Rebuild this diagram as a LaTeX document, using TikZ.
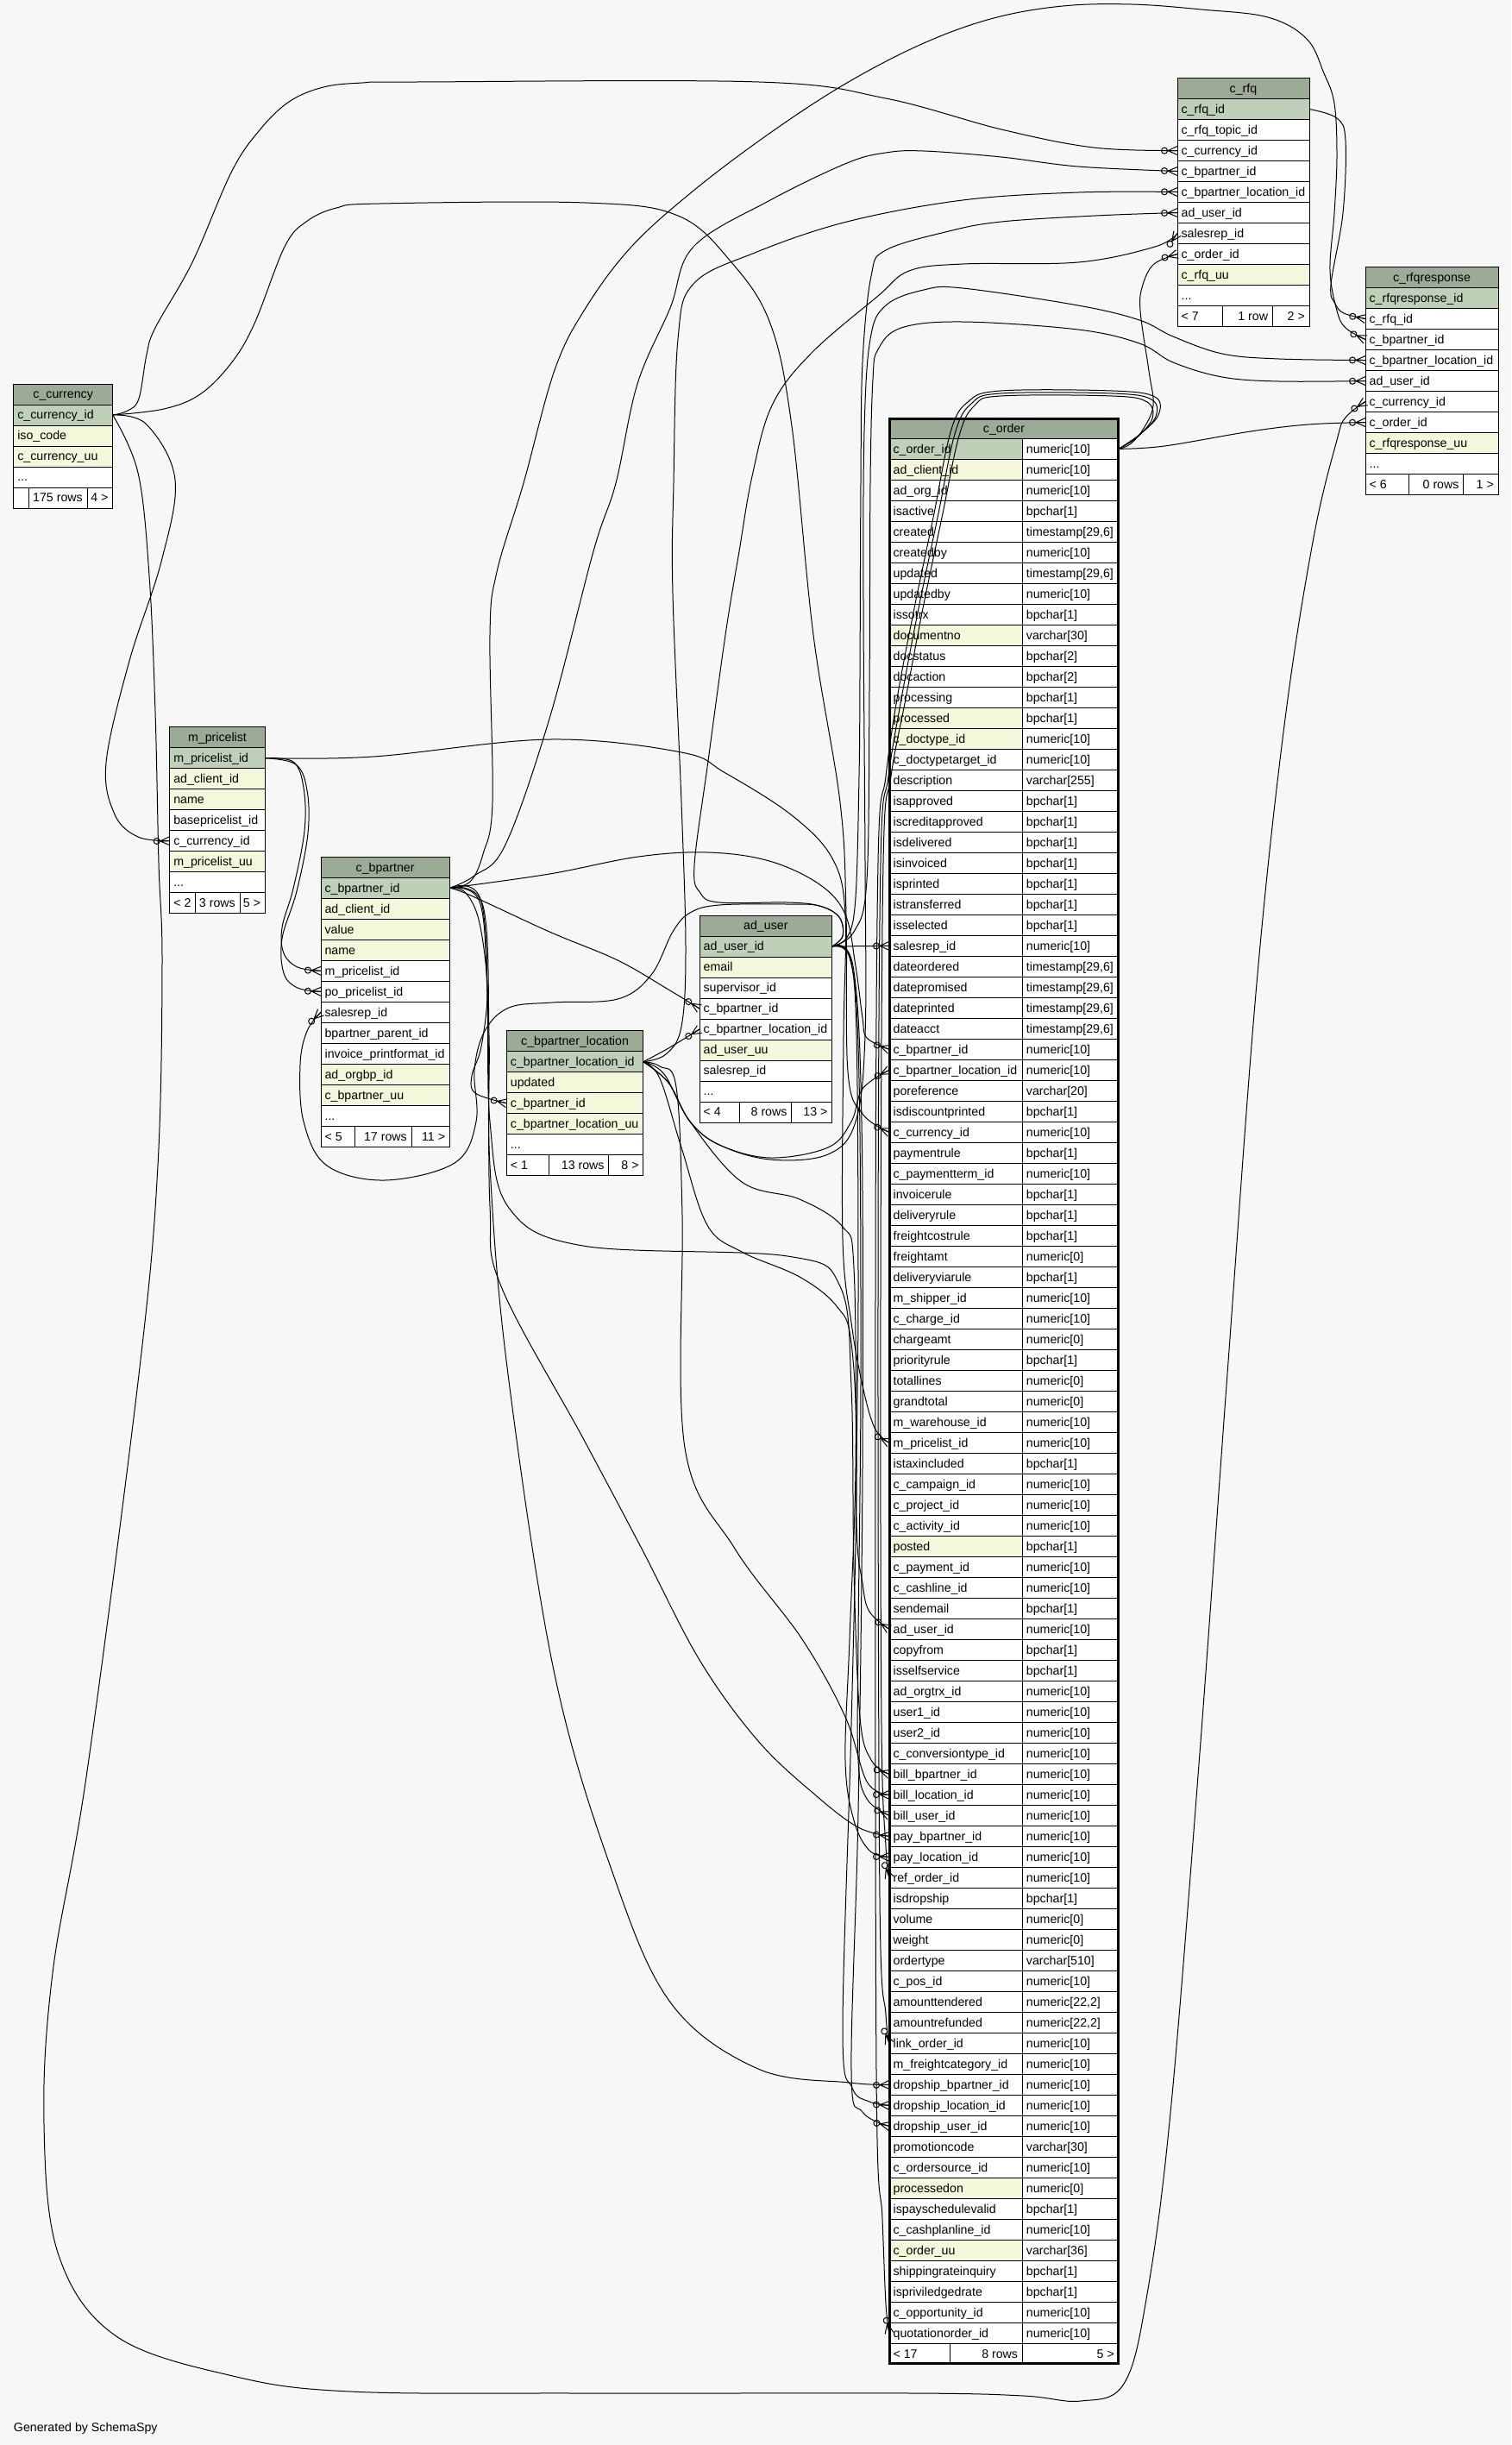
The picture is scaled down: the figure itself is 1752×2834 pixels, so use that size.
\documentclass[tikz,border=0pt]{standalone}
\usepackage{fontspec}
\setmainfont{Liberation Sans}
\usetikzlibrary{arrows.meta}
\pgfdeclarearrow{
  name=Crow,
  parameters={\the\pgfarrowlength,\the\pgfarrowwidth},
  setup code={
    \pgfarrowssettipend{0pt}
    \pgfarrowssetlineend{0pt}
    \pgfarrowssetbackend{-\pgfarrowlength}
    \pgfarrowshullpoint{0pt}{.5\pgfarrowwidth}
    \pgfarrowshullpoint{0pt}{-.5\pgfarrowwidth}
    \pgfarrowshullpoint{-\pgfarrowlength}{0pt}
    \pgfarrowssavethe\pgfarrowlength
    \pgfarrowssavethe\pgfarrowwidth
  },
  drawing code={
    \pgfsetdash{}{0pt}
    \pgfpathmoveto{\pgfqpoint{0pt}{.5\pgfarrowwidth}}
    \pgfpathlineto{\pgfqpoint{-\pgfarrowlength}{0pt}}
    \pgfpathlineto{\pgfqpoint{0pt}{-.5\pgfarrowwidth}}
    \pgfpathmoveto{\pgfqpoint{-\pgfarrowlength}{0pt}}
    \pgfpathlineto{\pgfqpoint{0pt}{0pt}}
    \pgfusepathqstroke
  },
  defaults={length=5pt,width=5pt}
}
\definecolor{bg}{HTML}{F7F7F7}
\definecolor{hdr}{HTML}{9BAB96}
\definecolor{pk}{HTML}{BED1B8}
\definecolor{ix}{HTML}{F4F7DA}
\tikzset{
  cellbox/.style={rectangle,draw=black,line width=0.5pt,inner sep=0pt,outer sep=0pt,minimum height=12pt},
  celltxt/.style={anchor=base west,inner sep=0pt,outer sep=0pt,font=\fontsize{7.1pt}{8pt}\selectfont},
  fk/.style={draw=black,line width=0.5pt,-{Circle[open,length=4pt,width=4pt] Crow[length=5.5pt,width=5pt]}},
}
% #1 name, #2 x, #3 y(top), #4 width px, #5 fill, #6 text
\newcommand\cellrow[6]{%
  \node[cellbox,fill=#5,minimum width=#4*0.5pt,anchor=north west] (#1) at (#2,#3) {};
  \node[celltxt] at ([xshift=2.3pt,yshift=-2.35pt]#1.west) {#6};}
\newcommand\hdrrow[5]{%
  \node[cellbox,fill=hdr,minimum width=#4*0.5pt,anchor=north west] (#1) at (#2,#3) {};
  \node[celltxt,anchor=base] at ([yshift=-2.35pt]#1.center) {#5};}
\newcommand\footrow[9]{%
  \node[cellbox,fill=white,minimum width=#4*0.5pt,anchor=north west] (#1-f1) at (#2,#3) {};
  \node[cellbox,fill=white,minimum width=#5*0.5pt,anchor=north west] (#1-f2) at (#1-f1.north east) {};
  \node[cellbox,fill=white,minimum width=#6*0.5pt,anchor=north west] (#1-f3) at (#1-f2.north east) {};
  \node[celltxt] at ([xshift=2.3pt,yshift=-2.35pt]#1-f1.west) {#7};
  \node[celltxt,anchor=base east] at ([xshift=-2.6pt,yshift=-2.35pt]#1-f2.east) {#8};
  \node[celltxt,anchor=base east] at ([xshift=-2.6pt,yshift=-2.35pt]#1-f3.east) {#9};}
\begin{document}
\begin{tikzpicture}[x=0.5pt,y=-0.5pt]
\useasboundingbox (0,0) rectangle (1752,2834);
\fill[bg] (0,0) rectangle (1752,2834);

% ---------------- c_rfq
\hdrrow{rfq-h}{1365}{90.5}{153}{c\_rfq}
\cellrow{rfq-id}{1365}{114.5}{153}{pk}{c\_rfq\_id}
\cellrow{rfq-topic}{1365}{138.5}{153}{white}{c\_rfq\_topic\_id}
\cellrow{rfq-cur}{1365}{162.5}{153}{white}{c\_currency\_id}
\cellrow{rfq-bp}{1365}{186.5}{153}{white}{c\_bpartner\_id}
\cellrow{rfq-bpl}{1365}{210.5}{153}{white}{c\_bpartner\_location\_id}
\cellrow{rfq-au}{1365}{234.5}{153}{white}{ad\_user\_id}
\cellrow{rfq-sr}{1365}{258.5}{153}{white}{salesrep\_id}
\cellrow{rfq-ord}{1365}{282.5}{153}{white}{c\_order\_id}
\cellrow{rfq-uu}{1365}{306.5}{153}{ix}{c\_rfq\_uu}
\cellrow{rfq-dots}{1365}{330.5}{153}{white}{...}
\footrow{rfq}{1365}{354.5}{52.7}{57.6}{42.7}{< 7}{1 row}{2 >}

% ---------------- c_rfqresponse
\hdrrow{rr-h}{1583}{309.5}{154}{c\_rfqresponse}
\cellrow{rr-id}{1583}{333.5}{154}{pk}{c\_rfqresponse\_id}
\cellrow{rr-rfq}{1583}{357.5}{154}{white}{c\_rfq\_id}
\cellrow{rr-bp}{1583}{381.5}{154}{white}{c\_bpartner\_id}
\cellrow{rr-bpl}{1583}{405.5}{154}{white}{c\_bpartner\_location\_id}
\cellrow{rr-au}{1583}{429.5}{154}{white}{ad\_user\_id}
\cellrow{rr-cur}{1583}{453.5}{154}{white}{c\_currency\_id}
\cellrow{rr-ord}{1583}{477.5}{154}{white}{c\_order\_id}
\cellrow{rr-uu}{1583}{501.5}{154}{ix}{c\_rfqresponse\_uu}
\cellrow{rr-dots}{1583}{525.5}{154}{white}{...}
\footrow{rr}{1583}{549.5}{50.7}{63}{40.3}{< 6}{0 rows}{1 >}

% ---------------- c_currency
\hdrrow{cu-h}{15.7}{445}{115}{c\_currency}
\cellrow{cu-id}{15.7}{469}{115}{pk}{c\_currency\_id}
\cellrow{cu-iso}{15.7}{493}{115}{ix}{iso\_code}
\cellrow{cu-uu}{15.7}{517}{115}{ix}{c\_currency\_uu}
\cellrow{cu-dots}{15.7}{541}{115}{white}{...}
\footrow{cu}{15.7}{565}{17.6}{67.7}{29.7}{}{175 rows}{4 >}

% ---------------- m_pricelist
\hdrrow{pl-h}{196.7}{842.7}{110.6}{m\_pricelist}
\cellrow{pl-id}{196.7}{866.7}{110.6}{pk}{m\_pricelist\_id}
\cellrow{pl-adc}{196.7}{890.7}{110.6}{ix}{ad\_client\_id}
\cellrow{pl-name}{196.7}{914.7}{110.6}{ix}{name}
\cellrow{pl-base}{196.7}{938.7}{110.6}{white}{basepricelist\_id}
\cellrow{pl-cur}{196.7}{962.7}{110.6}{white}{c\_currency\_id}
\cellrow{pl-uu}{196.7}{986.7}{110.6}{ix}{m\_pricelist\_uu}
\cellrow{pl-dots}{196.7}{1010.7}{110.6}{white}{...}
\footrow{pl}{196.7}{1034.7}{29.3}{52}{29.3}{< 2}{3 rows}{5 >}

% ---------------- c_bpartner
\hdrrow{bp-h}{372}{993.3}{149.3}{c\_bpartner}
\cellrow{bp-id}{372}{1017.3}{149.3}{pk}{c\_bpartner\_id}
\cellrow{bp-adc}{372}{1041.3}{149.3}{ix}{ad\_client\_id}
\cellrow{bp-value}{372}{1065.3}{149.3}{ix}{value}
\cellrow{bp-name}{372}{1089.3}{149.3}{ix}{name}
\cellrow{bp-mpl}{372}{1113.3}{149.3}{white}{m\_pricelist\_id}
\cellrow{bp-popl}{372}{1137.3}{149.3}{white}{po\_pricelist\_id}
\cellrow{bp-sr}{372}{1161.3}{149.3}{white}{salesrep\_id}
\cellrow{bp-parent}{372}{1185.3}{149.3}{white}{bpartner\_parent\_id}
\cellrow{bp-ipf}{372}{1209.3}{149.3}{white}{invoice\_printformat\_id}
\cellrow{bp-org}{372}{1233.3}{149.3}{ix}{ad\_orgbp\_id}
\cellrow{bp-uu}{372}{1257.3}{149.3}{ix}{c\_bpartner\_uu}
\cellrow{bp-dots}{372}{1281.3}{149.3}{white}{...}
\footrow{bp}{372}{1305.3}{39.8}{65.2}{44.3}{< 5}{17 rows}{11 >}

% ---------------- c_bpartner_location
\hdrrow{bl-h}{587.3}{1194.7}{158.5}{c\_bpartner\_location}
\cellrow{bl-id}{587.3}{1218.7}{158.5}{pk}{c\_bpartner\_location\_id}
\cellrow{bl-upd}{587.3}{1242.7}{158.5}{ix}{updated}
\cellrow{bl-bp}{587.3}{1266.7}{158.5}{ix}{c\_bpartner\_id}
\cellrow{bl-uu}{587.3}{1290.7}{158.5}{ix}{c\_bpartner\_location\_uu}
\cellrow{bl-dots}{587.3}{1314.7}{158.5}{white}{...}
\footrow{bl}{587.3}{1338.7}{49.4}{69.1}{40}{< 1}{13 rows}{8 >}

% ---------------- ad_user
\hdrrow{au-h}{811}{1061}{153.7}{ad\_user}
\cellrow{au-id}{811}{1085}{153.7}{pk}{ad\_user\_id}
\cellrow{au-email}{811}{1109}{153.7}{ix}{email}
\cellrow{au-sup}{811}{1133}{153.7}{white}{supervisor\_id}
\cellrow{au-bp}{811}{1157}{153.7}{white}{c\_bpartner\_id}
\cellrow{au-bpl}{811}{1181}{153.7}{white}{c\_bpartner\_location\_id}
\cellrow{au-uu}{811}{1205}{153.7}{ix}{ad\_user\_uu}
\cellrow{au-sr}{811}{1229}{153.7}{white}{salesrep\_id}
\cellrow{au-dots}{811}{1253}{153.7}{white}{...}
\footrow{au}{811}{1277}{46.2}{60.5}{47}{< 4}{8 rows}{13 >}

% ---------------- c_order
\hdrrow{ord-h}{1031}{484.3}{266}{c\_order}
\foreach [count=\i] \n/\t/\f in {
c\_order\_id/numeric[10]/pk,
ad\_client\_id/numeric[10]/ix,
ad\_org\_id/numeric[10]/white,
isactive/bpchar[1]/white,
created/{timestamp[29,6]}/white,
createdby/numeric[10]/white,
updated/{timestamp[29,6]}/white,
updatedby/numeric[10]/white,
issotrx/bpchar[1]/white,
documentno/varchar[30]/ix,
docstatus/bpchar[2]/white,
docaction/bpchar[2]/white,
processing/bpchar[1]/white,
processed/bpchar[1]/ix,
c\_doctype\_id/numeric[10]/ix,
c\_doctypetarget\_id/numeric[10]/white,
description/varchar[255]/white,
isapproved/bpchar[1]/white,
iscreditapproved/bpchar[1]/white,
isdelivered/bpchar[1]/white,
isinvoiced/bpchar[1]/white,
isprinted/bpchar[1]/white,
istransferred/bpchar[1]/white,
isselected/bpchar[1]/white,
salesrep\_id/numeric[10]/white,
dateordered/{timestamp[29,6]}/white,
datepromised/{timestamp[29,6]}/white,
dateprinted/{timestamp[29,6]}/white,
dateacct/{timestamp[29,6]}/white,
c\_bpartner\_id/numeric[10]/white,
c\_bpartner\_location\_id/numeric[10]/white,
poreference/varchar[20]/white,
isdiscountprinted/bpchar[1]/white,
c\_currency\_id/numeric[10]/white,
paymentrule/bpchar[1]/white,
c\_paymentterm\_id/numeric[10]/white,
invoicerule/bpchar[1]/white,
deliveryrule/bpchar[1]/white,
freightcostrule/bpchar[1]/white,
freightamt/numeric[0]/white,
deliveryviarule/bpchar[1]/white,
m\_shipper\_id/numeric[10]/white,
c\_charge\_id/numeric[10]/white,
chargeamt/numeric[0]/white,
priorityrule/bpchar[1]/white,
totallines/numeric[0]/white,
grandtotal/numeric[0]/white,
m\_warehouse\_id/numeric[10]/white,
m\_pricelist\_id/numeric[10]/white,
istaxincluded/bpchar[1]/white,
c\_campaign\_id/numeric[10]/white,
c\_project\_id/numeric[10]/white,
c\_activity\_id/numeric[10]/white,
posted/bpchar[1]/ix,
c\_payment\_id/numeric[10]/white,
c\_cashline\_id/numeric[10]/white,
sendemail/bpchar[1]/white,
ad\_user\_id/numeric[10]/white,
copyfrom/bpchar[1]/white,
isselfservice/bpchar[1]/white,
ad\_orgtrx\_id/numeric[10]/white,
user1\_id/numeric[10]/white,
user2\_id/numeric[10]/white,
c\_conversiontype\_id/numeric[10]/white,
bill\_bpartner\_id/numeric[10]/white,
bill\_location\_id/numeric[10]/white,
bill\_user\_id/numeric[10]/white,
pay\_bpartner\_id/numeric[10]/white,
pay\_location\_id/numeric[10]/white,
ref\_order\_id/numeric[10]/white,
isdropship/bpchar[1]/white,
volume/numeric[0]/white,
weight/numeric[0]/white,
ordertype/varchar[510]/white,
c\_pos\_id/numeric[10]/white,
amounttendered/{numeric[22,2]}/white,
amountrefunded/{numeric[22,2]}/white,
link\_order\_id/numeric[10]/white,
m\_freightcategory\_id/numeric[10]/white,
dropship\_bpartner\_id/numeric[10]/white,
dropship\_location\_id/numeric[10]/white,
dropship\_user\_id/numeric[10]/white,
promotioncode/varchar[30]/white,
c\_ordersource\_id/numeric[10]/white,
processedon/numeric[0]/ix,
ispayschedulevalid/bpchar[1]/white,
c\_cashplanline\_id/numeric[10]/white,
c\_order\_uu/varchar[36]/ix,
shippingrateinquiry/bpchar[1]/white,
ispriviledgedrate/bpchar[1]/white,
c\_opportunity\_id/numeric[10]/white,
quotationorder\_id/numeric[10]/white}{
  \node[cellbox,fill=\f,minimum width=77.15pt,anchor=north west] (ord-\i) at (1031,{508.3+24*(\i-1)}) {};
  \node[cellbox,fill=white,minimum width=55.85pt,anchor=north west] (ordt-\i) at (ord-\i.north east) {};
  \node[celltxt] at ([xshift=2.3pt,yshift=-2.35pt]ord-\i.west) {\n};
  \node[celltxt] at ([xshift=2.3pt,yshift=-2.35pt]ordt-\i.west) {\t};
}
\footrow{ord}{1031}{2716.3}{70}{84.3}{111.7}{< 17}{8 rows}{5 >}
\draw[line width=1.5pt] (1031.5,485) rectangle (1296.5,2739.8);

\node[celltxt] (gen) at (16,2818) {Generated by SchemaSpy};

% ================= connectors
% c_currency
\draw[fk] plot[smooth,tension=.6] coordinates {(cu-id.east) (148,476) (161,462) (170,411) (180,380) (223,304) (268,200) (300,152) (335,118) (375,101) (420,96) (480,95) (880,95) (1027,114) (1161,150) (1268,171) (rfq-cur.west)};
\draw[fk] plot[smooth,tension=.6] coordinates {(cu-id.east) (190,474) (232,457) (268,421) (295,375) (330,286) (355,257) (390,241) (440,236) (679,235) (786,250) (848,304) (893,375) (918,494) (943,736) (974,930) (981,1060) (983,1242) (1000,1291) (ord-34.west)};
\draw[fk] plot[smooth,tension=.6] coordinates {(cu-id.east) (170,492) (203,556) (187,651) (150,766) (123,884) (133,944) (160,970) (pl-cur.west)};
\draw[fk] plot[smooth,tension=.6] coordinates {(cu-id.east) (160,548) (173,667) (180,825) (184,1000) (188,1117) (183,1351) (162,1585) (101,2053) (61,2287) (51,2462) (68,2614) (135,2708) (270,2754) (406,2772) (676,2774) (1060,2774) (1187,2777) (1253,2783) (1303,2763) (1330,2659) (1357,2449) (1390,2045) (1423,1592) (1457,1140) (1490,833) (1523,623) (1550,510) (1560,484) (rr-cur.west)};
% m_pricelist
\draw[fk] plot[smooth,tension=.6] coordinates {(pl-id.east) (340,883) (352,913) (353,963) (340,1030) (327,1075) (329,1105) (345,1121) (bp-mpl.west)};
\draw[fk] plot[smooth,tension=.6] coordinates {(pl-id.east) (343,886) (356,916) (357,966) (344,1033) (327,1088) (329,1128) (345,1145) (bp-popl.west)};
\draw[fk] plot[smooth,tension=.6] coordinates {(pl-id.east) (433,877) (637,857) (790,872) (841,896) (918,945) (965,995) (980,1060) (978,1200) (977,1436) (987,1533) (1000,1606) (1014,1655) (ord-49.west)};
% c_bpartner
\draw[fk] plot[smooth,tension=.6] coordinates {(bp-id.east) (545,1022) (560,990) (571,930) (568,736) (576,663) (607,560) (643,429) (679,357) (732,286) (804,221) (893,154) (982,96) (1071,50) (1152,21) (1232,7) (1312,5) (1393,11) (1470,20) (1515,45) (1535,85) (1547,120) (1550,180) (1547,247) (1542,313) (1550,360) (1560,380) (rr-bp.west)};
\draw[fk] plot[smooth,tension=.6] coordinates {(bp-id.east) (550,1015) (586,979) (637,833) (688,639) (714,560) (739,445) (777,357) (804,286) (893,232) (982,189) (1027,177) (1071,175) (1161,182) (1250,193) (rfq-bp.west)};
\draw[fk] plot[smooth,tension=.6] coordinates {(bp-id.east) (540,1035) (556,1070) (565,1147) (558,1213) (547,1247) (551,1267) (bl-bp.west)};
\draw[fk] plot[smooth,tension=.6] coordinates {(bp-id.east) (546,1038) (637,1080) (716,1113) (775,1147) (au-bp.west)};
\draw[fk] plot[smooth,tension=.6] coordinates {(bp-id.east) (637,1013) (740,993) (821,988) (892,998) (950,1025) (980,1060) (992,1120) (1000,1180) (1005,1203) (ord-30.west)};
\draw[fk] plot[smooth,tension=.6] coordinates {(bp-id.east) (556,1045) (565,1150) (568,1300) (590,1400) (676,1444) (913,1456) (974,1491) (987,1608) (990,1819) (997,1990) (1010,2040) (ord-65.west)};
\draw[fk] plot[smooth,tension=.6] coordinates {(bp-id.east) (558,1045) (566,1200) (568,1398) (581,1491) (676,1667) (744,1795) (811,1924) (879,2018) (947,2082) (995,2118) (ord-68.west)};
\draw[fk] plot[smooth,tension=.6] coordinates {(bp-id.east) (560,1050) (567,1200) (568,1351) (588,1585) (642,1936) (710,2170) (778,2322) (879,2398) (985,2414) (ord-80.west)};
% c_bpartner_location
\draw[fk] plot[smooth,tension=.6] coordinates {(bl-id.east) (772,1222) (790,1190) (795,1100) (790,930) (780,688) (781,560) (786,393) (804,329) (875,293) (982,257) (1116,232) (1250,223) (rfq-bpl.west)};
\draw[fk] plot[smooth,tension=.6] coordinates {(bl-id.east) (775,1215) (au-bpl.west)};
\draw[fk] plot[smooth,tension=.6] coordinates {(bl-id.east) (775,1255) (800,1300) (834,1327) (893,1342) (960,1330) (987,1300) (1000,1262) (ord-31.west)};
\draw[fk] plot[smooth,tension=.6] coordinates {(bl-id.east) (765,1236) (784,1260) (791,1409) (794,1678) (852,1795) (930,1900) (980,1990) (1005,2065) (ord-66.west)};
\draw[fk] plot[smooth,tension=.6] coordinates {(bl-id.east) (770,1245) (800,1300) (860,1370) (927,1390) (977,1422) (990,1470) (992,1700) (985,1900) (980,2041) (990,2110) (1008,2145) (ord-69.west)};
\draw[fk] plot[smooth,tension=.6] coordinates {(bl-id.east) (765,1250) (790,1330) (820,1420) (860,1451) (927,1480) (970,1514) (987,1557) (993,1700) (987,2000) (977,2354) (988,2420) (1008,2436) (ord-81.west)};
\draw[fk] plot[smooth,tension=.6] coordinates {(bl-id.east) (775,1255) (800,1300) (834,1327) (893,1344) (960,1338) (992,1300) (1003,1200) (1003,1000) (1001,700) (1002,500) (1009,393) (1027,354) (1071,336) (1116,334) (1250,354) (1321,371) (1360,390) (1417,410) (1483,416) (rr-bpl.west)};
% ad_user
\draw[fk] (au-id.east) -- (ord-25.west);
\draw[fk] plot[smooth,tension=.6] coordinates {(au-id.east) (977,1085) (973,1063) (950,1050) (913,1048) (834,1049) (800,1058) (780,1080) (755,1130) (716,1158) (640,1162) (590,1168) (562,1195) (550,1240) (552,1300) (527,1348) (446,1368) (379,1351) (352,1300) (348,1234) (356,1195) (bp-sr.west)};
\draw[fk] plot[smooth,tension=.6] coordinates {(au-id.east) (983,1085) (992,1040) (996,900) (997,785) (998,560) (1000,420) (1010,320) (1027,290) (1100,268) (1161,257) (1270,250) (rfq-au.west)};
\draw[fk] plot[smooth,tension=.6] coordinates {(au-id.east) (977,1085) (973,1063) (950,1050) (913,1046) (834,1046) (812,1035) (805,1003) (821,882) (841,736) (857,639) (872,552) (895,470) (940,410) (1018,343) (1054,314) (1116,306) (1250,304) (1339,286) (rfq-sr.west)};
\draw[fk] plot[smooth,tension=.6] coordinates {(au-id.east) (990,1080) (1005,1020) (1008,800) (1009,560) (1012,440) (1018,405) (1045,380) (1116,373) (1250,382) (1321,398) (1360,420) (1417,437) (1483,442) (rr-au.west)};
\draw[fk] plot[smooth,tension=.6] coordinates {(au-id.east) (985,1110) (993,1200) (995,1500) (993,1760) (1000,1835) (1008,1868) (ord-58.west)};
\draw[fk] plot[smooth,tension=.6] coordinates {(au-id.east) (987,1115) (996,1250) (998,1600) (995,1900) (995,2040) (1005,2085) (ord-67.west)};
\draw[fk] plot[smooth,tension=.6] coordinates {(au-id.east) (989,1120) (999,1300) (1000,1700) (995,2100) (987,2400) (1000,2448) (ord-82.west)};
% c_order
\draw[fk] plot[smooth,tension=.6] coordinates {(ordt-1.east) (1310,515) (1325,498) (1337,470) (1332,430) (1322,360) (1325,330) (1338,306) (rfq-ord.west)};
\draw[fk] plot[smooth,tension=.6] coordinates {(ordt-1.east) (1350,517) (1450,500) (1517,492) (rr-ord.west)};
\draw[fk] plot[smooth,tension=.6] coordinates {(ordt-1.east) (1318,507) (1336,485) (1330,466) (1290,459) (1160,459) (1130,470) (1112,505) (1092,600) (1070,705) (1050,810) (1033,900) (1024,1000) (1021,1500) (1022,2000) (1027,2140) (ord-70.west)};
\draw[fk] plot[smooth,tension=.6] coordinates {(ordt-1.east) (1320,505) (1340,483) (1335,463) (1290,456) (1160,456) (1126,468) (1107,503) (1087,600) (1065,705) (1045,810) (1030,900) (1021,1000) (1018,1500) (1020,2200) (1027,2335) (ord-78.west)};
\draw[fk] plot[smooth,tension=.6] coordinates {(ordt-1.east) (1322,503) (1343,481) (1339,460) (1290,453) (1160,453) (1122,466) (1102,501) (1082,600) (1060,705) (1040,810) (1027,900) (1018,1000) (1015,1500) (1016,2400) (1023,2572) (1027,2670) (ord-92.west)};
% c_rfq
\draw[fk] plot[smooth,tension=.6] coordinates {(rfq-id.east) (1550,137) (1560,163) (1557,247) (1543,330) (1548,352) (1558,363) (rr-rfq.west)};
\end{tikzpicture}
\end{document}
